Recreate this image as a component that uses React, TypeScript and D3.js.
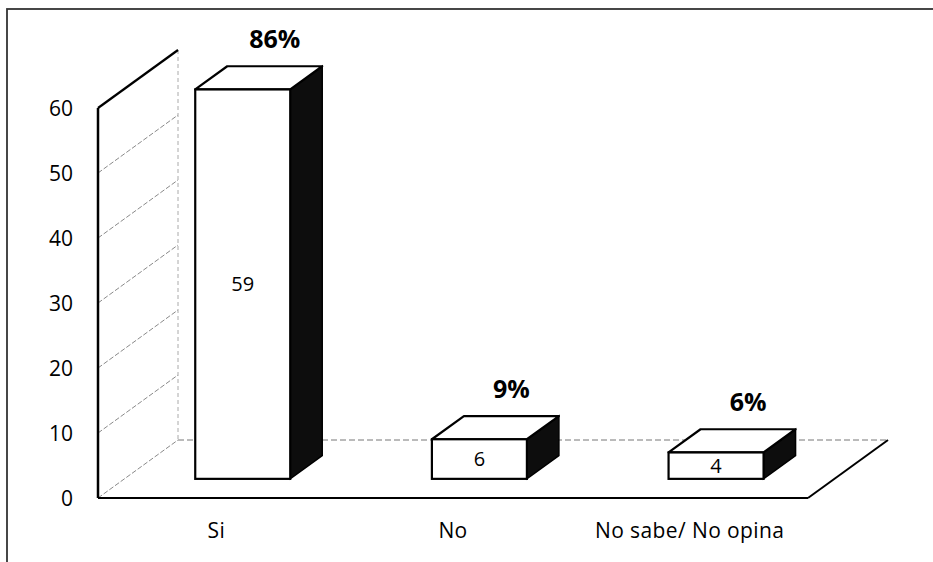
import React from "react";
import * as d3 from "d3";

const categories = ["Si", "No", "No sabe/ No opina"];
const values = [59, 6, 4];
const percents = ["86%", "9%", "6%"];
const yTicks = [0, 10, 20, 30, 40, 50, 60];

const W = 933;
const H = 562;
const FONT = "'Open Sans', 'Noto Sans', sans-serif";

// floor depth vector and where the bars sit inside it
const depth = {dx: 80, dy: -58};
const barFront = 0.33;
const barDepth = 0.4;

export default function App() {
  const x = d3.scaleBand().domain(categories).range([98, 808]);
  const y = d3.scaleLinear().domain([0, 60]).range([498, 108]);
  const h = d3.scaleLinear().domain([0, 60]).range([0, 396]);

  const barW = 95;
  const bdx = depth.dx * barDepth;
  const bdy = depth.dy * barDepth;
  const base = y(0) + depth.dy * barFront;

  const pts = (p: number[][]) => p.map(d => d.join(",")).join(" ");

  return (
    <svg width={W} height={H} style={{position: "absolute", left: 0, top: 0, background: "#fff"}}>
      <rect x={7} y={9} width={W + 10} height={H + 10} fill="none" stroke="#333" strokeWidth={1.8} />

      {/* left wall */}
      {yTicks.map(t => (
        <line key={t} x1={98} y1={y(t)} x2={98 + depth.dx} y2={y(t) + depth.dy}
          stroke="#8a8a8a" strokeWidth={1} strokeDasharray={t === 60 ? null : "5,2"} />
      ))}
      <line x1={98 + depth.dx} y1={y(60) + depth.dy} x2={98 + depth.dx} y2={y(0) + depth.dy}
        stroke="#aaa" strokeWidth={1} strokeDasharray="4,3" />
      <line x1={98} y1={y(60)} x2={98 + depth.dx} y2={y(60) + depth.dy} stroke="#000" strokeWidth={2.2} />

      {/* floor */}
      <line x1={98 + depth.dx} y1={y(0) + depth.dy} x2={808 + depth.dx} y2={y(0) + depth.dy}
        stroke="#777" strokeWidth={1} strokeDasharray="6,3" />
      <line x1={98} y1={y(0)} x2={808} y2={y(0)} stroke="#000" strokeWidth={2.2} />
      <line x1={808} y1={y(0)} x2={808 + depth.dx} y2={y(0) + depth.dy} stroke="#000" strokeWidth={2} />
      <line x1={98} y1={y(0)} x2={98} y2={y(60)} stroke="#000" strokeWidth={2.5} />

      {yTicks.map(t => (
        <text key={t} x={73} y={y(t)} dy="0.36em" textAnchor="end" fontFamily={FONT} fontSize={21} fill="#000">{t}</text>
      ))}

      {categories.map((c, i) => {
        const x0 = (x(c) as number) + (x.bandwidth() - barW) / 2 + depth.dx * barFront;
        const x1 = x0 + barW;
        const top = base - h(values[i]);
        return (
          <g key={c}>
            <polygon points={pts([[x1, top], [x1 + bdx, top + bdy], [x1 + bdx, base + bdy], [x1, base]])}
              fill="#0d0d0d" stroke="#000" strokeWidth={1.5} />
            <polygon points={pts([[x0, top], [x0 + bdx, top + bdy], [x1 + bdx, top + bdy], [x1, top]])}
              fill="#fff" stroke="#000" strokeWidth={2.2} strokeLinejoin="round" />
            <rect x={x0} y={top} width={barW} height={base - top} fill="#fff" stroke="#000" strokeWidth={2.2} />
            <text x={(x0 + x1) / 2} y={(top + base) / 2} dy="0.36em" textAnchor="middle"
              fontFamily={FONT} fontSize={20} fill="#000">{values[i]}</text>
            <text x={(x0 + x1) / 2 + bdx} y={top + bdy - 27} dy="0.36em" textAnchor="middle"
              fontFamily={FONT} fontSize={25} fontWeight="bold" fill="#000">{percents[i]}</text>
            <text x={(x(c) as number) + x.bandwidth() / 2} y={530} dy="0.36em" textAnchor="middle"
              fontFamily={FONT} fontSize={21} letterSpacing={0.4} fill="#000">{c}</text>
          </g>
        );
      })}
    </svg>
  );
}
